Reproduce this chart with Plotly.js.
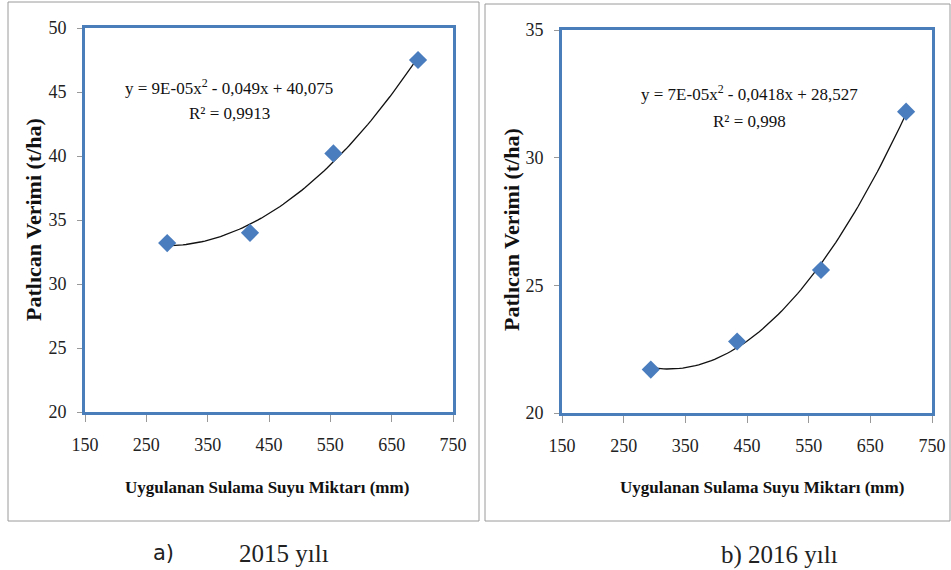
<!DOCTYPE html>
<html>
<head>
<meta charset="utf-8">
<script src="https://cdn.plot.ly/plotly-3.0.1.min.js"></script>
<style>html,body{margin:0;padding:0;background:#fff}#chart{width:951px;height:570px}</style>
</head>
<body>
<div id="chart"></div>
<script>
// ---- data ----
const water2015 = [284, 419, 555, 693];
const yield2015 = [33.2, 34.0, 40.2, 47.5];
const water2016 = [294, 434, 570, 708];
const yield2016 = [21.7, 22.8, 25.6, 31.8];
const eq2015 = "y = 9E-05x<sup>2</sup> - 0,049x + 40,075";
const r2015 = "R² = 0,9913";
const eq2016 = "y = 7E-05x<sup>2</sup> - 0,0418x + 28,527";
const r2016 = "R² = 0,998";
const xTitle = "Uygulanan Sulama Suyu Miktarı (mm)";
const yTitle = "Patlıcan Verimi (t/ha)";

// least-squares quadratic trendline (as the spreadsheet does)
function polyFit2(xs, ys) {
  let n = xs.length, s = [0,0,0,0,0], t = [0,0,0];
  for (let i = 0; i < n; i++) {
    let p = 1;
    for (let k = 0; k < 5; k++) { s[k] += p; if (k < 3) t[k] += p * ys[i]; p *= xs[i]; }
  }
  const M = [[s[0], s[1], s[2], t[0]], [s[1], s[2], s[3], t[1]], [s[2], s[3], s[4], t[2]]];
  for (let c = 0; c < 3; c++) {
    for (let r = c + 1; r < 3; r++) {
      const f = M[r][c] / M[c][c];
      for (let k = c; k < 4; k++) M[r][k] -= f * M[c][k];
    }
  }
  const co = [0, 0, 0];
  for (let r = 2; r >= 0; r--) {
    let v = M[r][3];
    for (let k = r + 1; k < 3; k++) v -= M[r][k] * co[k];
    co[r] = v / M[r][r];
  }
  return co; // c0 + c1 x + c2 x^2
}
function trend(xs, ys) {
  const co = polyFit2(xs, ys);
  const x0 = Math.min(...xs), x1 = Math.max(...xs);
  const tx = [], ty = [];
  for (let i = 0; i <= 80; i++) {
    const x = x0 + (x1 - x0) * i / 80;
    tx.push(x); ty.push(co[0] + co[1] * x + co[2] * x * x);
  }
  return {tx, ty};
}
const t15 = trend(water2015, yield2015);
const t16 = trend(water2016, yield2016);

const W = 951, H = 570;
const px = x => x / W, py = y => 1 - y / H;
const blue = '#4a7ebb';
const markerBlue = '#4a7dbe';
const serif = 'Liberation Serif';

const traces = [
  {x: t15.tx, y: t15.ty, xaxis: 'x', yaxis: 'y', mode: 'lines', line: {color: '#111', width: 1.3}, hoverinfo: 'skip'},
  {x: water2015, y: yield2015, xaxis: 'x', yaxis: 'y', mode: 'markers', marker: {symbol: 'diamond', size: 14, color: markerBlue}},
  {x: t16.tx, y: t16.ty, xaxis: 'x2', yaxis: 'y2', mode: 'lines', line: {color: '#111', width: 1.3}, hoverinfo: 'skip'},
  {x: water2016, y: yield2016, xaxis: 'x2', yaxis: 'y2', mode: 'markers', marker: {symbol: 'diamond', size: 14, color: markerBlue}}
];

function xa(dom) {
  return {domain: dom, range: [150, 750], tick0: 150, dtick: 100, showgrid: false, zeroline: false,
    showline: true, mirror: true, linecolor: blue, linewidth: 3,
    ticks: 'outside', ticklen: 7, tickwidth: 1, tickcolor: '#999', ticklabelstandoff: 7,
    tickfont: {family: serif, size: 18, color: '#222'}, fixedrange: true};
}
function ya(dom, r, anchor) {
  return {domain: dom, range: r, dtick: 5, showgrid: false, zeroline: false, anchor: anchor,
    showline: true, mirror: true, linecolor: blue, linewidth: 3,
    ticks: 'outside', ticklen: 5, tickwidth: 1, tickcolor: '#999', ticklabelstandoff: 7,
    tickfont: {family: serif, size: 18, color: '#222'}, fixedrange: true};
}

function ann(text, x, y, size, opts) {
  return Object.assign({text: text, x: px(x), y: py(y), xref: 'paper', yref: 'paper', showarrow: false,
    xanchor: 'center', yanchor: 'middle', font: {family: serif, size: size, color: '#111'}}, opts || {});
}

const layout = {
  width: W, height: H, margin: {l: 0, r: 0, t: 0, b: 0},
  font: {family: serif},
  paper_bgcolor: '#fff', plot_bgcolor: '#fff', showlegend: false,
  xaxis: Object.assign(xa([px(85), px(453)]), {anchor: 'y'}),
  yaxis: ya([py(412), py(28)], [20, 50], 'x'),
  xaxis2: Object.assign(xa([px(562), px(932)]), {anchor: 'y2'}),
  yaxis2: ya([py(413), py(30)], [20, 35], 'x2'),
  shapes: [
    {type: 'rect', xref: 'paper', yref: 'paper', x0: px(8), x1: px(479), y0: py(521), y1: py(2), line: {color: '#9a9a9a', width: 1}},
    {type: 'rect', xref: 'paper', yref: 'paper', x0: px(485), x1: px(950), y0: py(521), y1: py(4), line: {color: '#9a9a9a', width: 1}}
  ],
  annotations: [
    ann(eq2015, 229, 87, 17),
    ann(r2015, 229, 114, 17),
    ann(eq2016, 749, 93, 17),
    ann(r2016, 749, 121, 17),
    ann('<b>' + yTitle + '</b>', 33, 220, 22, {textangle: -90}),
    ann('<b>' + yTitle + '</b>', 512, 230, 22, {textangle: -90}),
    ann('<b>' + xTitle + '</b>', 267, 487, 17),
    ann('<b>' + xTitle + '</b>', 762, 487, 17),
    ann('a)', 163, 553, 21, {font: {family: 'DejaVu Sans', size: 21, color: '#222'}}),
    ann('2015 yılı', 284, 553, 25, {font: {family: serif, size: 25, color: '#222'}}),
    ann('b) 2016 yılı', 779, 555, 25, {font: {family: serif, size: 25, color: '#222'}})
  ]
};

Plotly.newPlot('chart', traces, layout, {displayModeBar: false, staticPlot: true});
</script>
</body>
</html>
